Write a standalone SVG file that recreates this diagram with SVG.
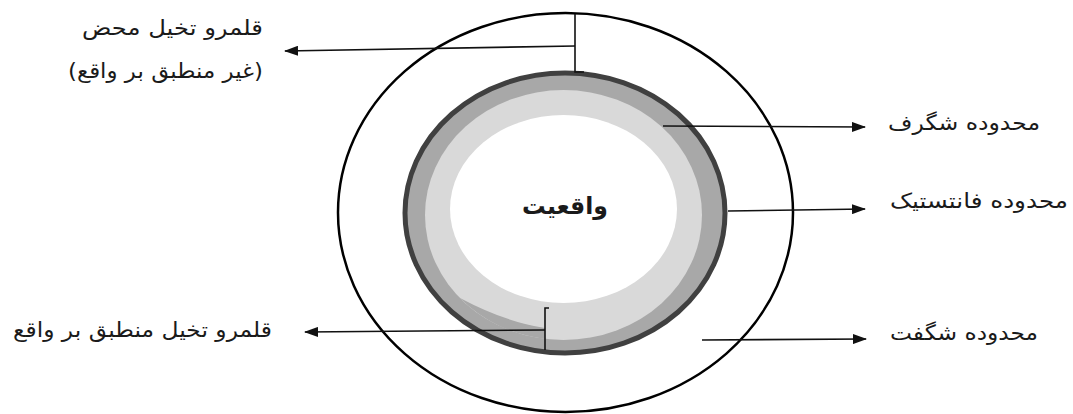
<svg xmlns="http://www.w3.org/2000/svg" width="1073" height="414" viewBox="0 0 1073 414">
<style>
.lbl{font-family:"DejaVu Sans","Noto Sans",sans-serif;font-size:21px;fill:#1a1a1a;text-anchor:middle;direction:rtl}
.ln{stroke:#111;stroke-width:1.6;fill:none}
</style>
<defs>
<marker id="ah" viewBox="0 0 14 10" refX="13" refY="5" markerWidth="14" markerHeight="10" markerUnits="userSpaceOnUse" orient="auto">
<path d="M0,0 L14,5 L0,10 Z" fill="#111"/>
</marker>
</defs>
<rect width="1073" height="414" fill="#fff"/>
<g id="outer">
<ellipse cx="565.5" cy="212.5" rx="227.5" ry="199.5" fill="none" stroke="#000" stroke-width="2.5"/>
</g>
<g id="reality">
<ellipse cx="565" cy="213" rx="160" ry="140" fill="#a8a8a8" stroke="#404040" stroke-width="5"/>
<ellipse cx="563.5" cy="215" rx="138.5" ry="125" fill="#d9d9d9"/>
<path d="M545,328 Q505,322 460,298 A138.5,125 0 0 0 545,339 Z" fill="#a8a8a8"/>
<ellipse cx="563.5" cy="209" rx="113.5" ry="94" fill="#fff"/>
<text class="lbl" x="565" y="214" style="font-size:24px;font-weight:bold" textLength="86" lengthAdjust="spacingAndGlyphs">واقعیت</text>
</g>
<g id="connectors">
<polyline class="ln" points="575,14 575,72 584,72"/>
<line class="ln" x1="575" y1="46" x2="285" y2="51" marker-end="url(#ah)"/>
<polyline class="ln" points="549,308 545,308 545,350"/>
<line class="ln" x1="545" y1="330" x2="305" y2="332" marker-end="url(#ah)"/>
<line class="ln" x1="663" y1="126" x2="865" y2="127" marker-end="url(#ah)"/>
<line class="ln" x1="728" y1="211" x2="865" y2="209" marker-end="url(#ah)"/>
<line class="ln" x1="702" y1="340" x2="866" y2="339" marker-end="url(#ah)"/>
</g>
<g id="label-pure-imagination">
<text class="lbl" x="172.5" y="35" textLength="181" lengthAdjust="spacingAndGlyphs">قلمرو تخیل محض</text>
<text class="lbl" x="165.5" y="78" textLength="195" lengthAdjust="spacingAndGlyphs">(غیر منطبق بر واقع)</text>
</g>
<g id="label-real-imagination">
<text class="lbl" x="142.5" y="337" textLength="259" lengthAdjust="spacingAndGlyphs">قلمرو تخیل منطبق بر واقع</text>
</g>
<g id="label-shegarf">
<text class="lbl" x="964" y="130" textLength="152" lengthAdjust="spacingAndGlyphs">محدوده شگرف</text>
</g>
<g id="label-fantastic">
<text class="lbl" x="979" y="208" textLength="178" lengthAdjust="spacingAndGlyphs">محدوده فانتستیک</text>
</g>
<g id="label-shegeft">
<text class="lbl" x="964" y="340" textLength="148" lengthAdjust="spacingAndGlyphs">محدوده شگفت</text>
</g>
</svg>
